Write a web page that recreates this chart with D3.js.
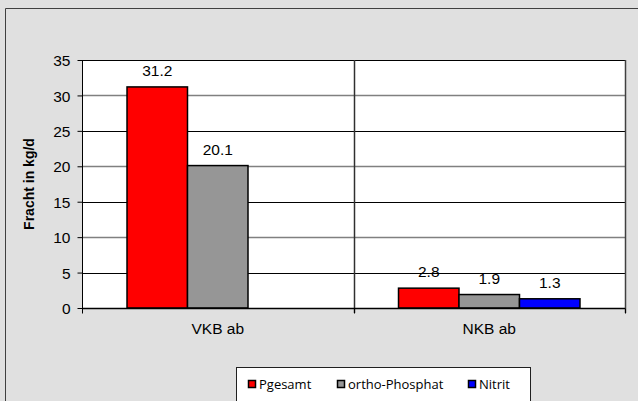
<!DOCTYPE html>
<html><head><meta charset="utf-8">
<script src="https://cdn.jsdelivr.net/npm/d3@7"></script>
<style>html,body{margin:0;padding:0;background:#e0e0e0;overflow:hidden}</style>
</head><body>
<svg id="c" width="638" height="401"></svg>
<script>
const categories = ["VKB ab", "NKB ab"];
const seriesNames = ["Pgesamt", "ortho-Phosphat", "Nitrit"];
const seriesColors = ["#ff0000", "#969696", "#0000ff"];
const pgesamt = [31.2, 2.8];
const orthoPhosphat = [20.1, 1.9];
const nitrit = [null, 1.3];
const yTicks = [0, 5, 10, 15, 20, 25, 30, 35];
const yTitle = "Fracht in kg/d";

const seriesValues = [pgesamt, orthoPhosphat, nitrit];
const svg = d3.select("#c");
const W = 638, H = 401;
const m = {l: 82, r: 625, t: 60, b: 308};
const FONT = "Liberation Sans, Arial, sans-serif";

svg.append("rect").attr("x", 0).attr("y", 0).attr("width", W).attr("height", H).attr("fill", "#e0e0e0");
svg.append("path").attr("d", `M5.5,${H} V8.5 H${W}`).attr("fill", "none").attr("stroke", "#404040").attr("stroke-width", 1);

const x0 = d3.scaleBand().domain(categories).range([m.l, m.r]).paddingInner(0).paddingOuter(0);
const x1 = d3.scaleBand().domain(seriesNames).range([0, x0.bandwidth()]).paddingInner(0).paddingOuter(0.744);
const y = d3.scaleLinear().domain([0, 35]).range([m.b, m.t]);

svg.append("rect").attr("x", m.l).attr("y", m.t).attr("width", m.r - m.l).attr("height", m.b - m.t).attr("fill", "#fff");

svg.append("g").selectAll("line").data(yTicks.filter(d => d > 0)).join("line")
  .attr("x1", m.l).attr("x2", m.r)
  .attr("y1", d => Math.round(y(d)) + 0.5).attr("y2", d => Math.round(y(d)) + 0.5)
  .attr("stroke", d => (d % 10 === 0 ? "#808080" : "#000"))
  .attr("stroke-width", d => (d % 10 === 0 ? 1.5 : 1));

svg.append("line").attr("x1", m.r + 0.5).attr("x2", m.r + 0.5).attr("y1", m.t).attr("y2", m.b + 5).attr("stroke", "#404040").attr("stroke-width", 1.5);
const mid = x0(categories[1]);
svg.append("line").attr("x1", Math.round(mid) + 0.5).attr("x2", Math.round(mid) + 0.5).attr("y1", m.t).attr("y2", m.b + 5).attr("stroke", "#303030").attr("stroke-width", 1.5);

const groups = svg.append("g").selectAll("g").data(categories).join("g")
  .attr("transform", d => `translate(${x0(d)},0)`);
groups.each(function (cat, ci) {
  const g = d3.select(this);
  seriesNames.forEach((s, si) => {
    const v = seriesValues[si][ci];
    if (v == null) return;
    g.append("rect")
      .attr("x", x1(s)).attr("width", x1.bandwidth())
      .attr("y", y(v)).attr("height", y(0) - y(v))
      .attr("fill", seriesColors[si]).attr("stroke", "#000").attr("stroke-width", 1.5);
    g.append("text")
      .attr("x", x1(s) + x1.bandwidth() / 2).attr("y", y(v) - 11)
      .attr("text-anchor", "middle").attr("font-family", FONT)
      .attr("font-size", 15.5).attr("fill", "#000").text(v.toFixed(1));
  });
});

const yAxis = d3.axisLeft(y).tickValues(yTicks).tickSize(5).tickFormat(d3.format("d"));
const ya = svg.append("g").attr("transform", `translate(${m.l + 0.5},0)`).call(yAxis);
ya.select(".domain").attr("stroke", "#000").attr("d", `M0,${m.t}V${m.b + 0.5}`);
ya.selectAll(".tick line").attr("stroke", "#000");
ya.selectAll(".tick text").attr("font-family", FONT).attr("font-size", 15.5).attr("fill", "#000").attr("x", -12).attr("dy", "0.36em");

const xa = svg.append("g").attr("transform", `translate(0,${m.b + 0.5})`);
xa.append("line").attr("x1", m.l).attr("x2", m.r).attr("stroke", "#000").attr("stroke-width", 1.5);
[m.l, mid, m.r].forEach(px => xa.append("line").attr("x1", Math.round(px) + 0.5).attr("x2", Math.round(px) + 0.5).attr("y1", 0).attr("y2", 5).attr("stroke", "#000"));
xa.selectAll("text.cat").data(categories).join("text").attr("class", "cat")
  .attr("x", d => x0(d) + x0.bandwidth() / 2).attr("y", 25)
  .attr("text-anchor", "middle").attr("font-family", FONT)
  .attr("font-size", 15.5).attr("fill", "#000").text(d => d);

svg.append("text").attr("transform", `translate(34,${(m.t + m.b) / 2}) rotate(-90)`)
  .attr("text-anchor", "middle").attr("font-family", FONT)
  .attr("font-weight", "bold").attr("font-size", 14).attr("fill", "#000").text(yTitle);

const lg = svg.append("g");
lg.append("rect").attr("x", 236.5).attr("y", 367.5).attr("width", 294).attr("height", 40).attr("fill", "#fff").attr("stroke", "#202020");
const legX = [248, 337, 468];
seriesNames.forEach((s, i) => {
  lg.append("rect").attr("x", legX[i] + 0.5).attr("y", 380.5).attr("width", 7).attr("height", 7)
    .attr("fill", seriesColors[i]).attr("stroke", "#000").attr("stroke-width", 1.5);
  lg.append("text").attr("x", legX[i] + 11).attr("y", 389).attr("font-family", "Open Sans, sans-serif")
    .attr("font-size", 13).attr("fill", "#000").text(s);
});
</script>
</body></html>
